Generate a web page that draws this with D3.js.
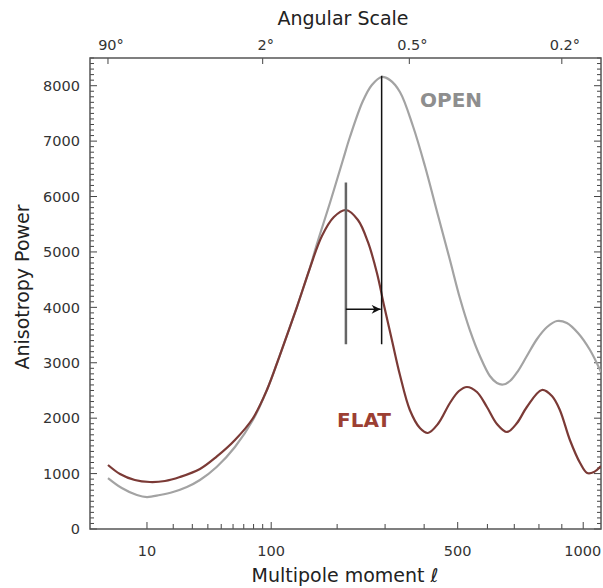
<!DOCTYPE html>
<html>
<head>
<meta charset="utf-8">
<script src="https://cdn.jsdelivr.net/npm/d3@7"></script>
<style>
  body { margin: 0; background: #fff; }
  text { font-family: "DejaVu Sans", "Liberation Sans", Arial, sans-serif; }
</style>
</head>
<body>
<script>
// Data
const openL = [2, 4, 7.2, 10, 14.4, 19.9, 26.9, 34.7, 46.4, 61.7, 79.3, 94.9, 110.9, 134.1, 153.7, 164.4, 187, 210.8, 224.3, 250.7, 270, 292, 311.4, 336, 369.5, 402.2, 439.4, 475.7, 507, 539.6, 573.6, 608.8, 634.4, 657.2, 683.4, 714.4, 750, 792, 834.6, 878, 923, 975, 1033, 1088];
const openV = [920, 740, 614, 577, 614, 668, 758, 884, 1119, 1480, 1967, 2509, 3140, 4006, 4710, 5125, 5883, 6659, 7074, 7724, 8013, 8157, 8103, 7887, 7273, 6551, 5667, 4855, 4169, 3591, 3122, 2761, 2635, 2608, 2671, 2851, 3122, 3429, 3645, 3754, 3718, 3537, 3230, 2833];
const flatL = [2, 3.7, 6.7, 10.9, 16.4, 23.2, 34.7, 46.4, 61.7, 79.3, 94.9, 110.9, 134.1, 153.7, 173.2, 194.1, 216.5, 240.4, 261.4, 281.3, 297.3, 316.2, 336, 361.4, 388.3, 410.5, 439.4, 475.7, 504, 529.9, 563.5, 598.3, 634.4, 672, 710.7, 750, 812.4, 856, 891, 937, 985, 1019, 1053, 1088];
const flatV = [1155, 993, 884, 848, 866, 938, 1083, 1305, 1606, 1999, 2509, 3140, 4006, 4710, 5288, 5631, 5757, 5577, 5180, 4620, 4043, 3411, 2779, 2148, 1823, 1733, 1895, 2274, 2490, 2563, 2472, 2202, 1895, 1751, 1913, 2202, 2509, 2400, 2148, 1606, 1191, 1011, 1029, 1137];
const yTicks = [0, 1000, 2000, 3000, 4000, 5000, 6000, 7000, 8000];
const xTickLabels = [10, 100, 500, 1000];
const xMinor = [10, 20, 30, 40, 50, 60, 70, 80, 90, 100, 200, 300, 400, 500, 600, 700, 800, 900, 1000];
const angles = [90, 2, 0.5, 0.2];
// marker lines: multipole of each peak and its vertical extent
const flatPeakL = 216.5, flatMark = [3334, 6253];
const openPeakL = 292, openMark = [3334, 8180];
const arrowV = 3964;

const width = 603, height = 588;
const m = { left: 90, right: 601, top: 58, bottom: 529 };

const x = d3.scalePow().exponent(0.4).domain([0.52, 1088]).range([m.left, m.right]);
const y = d3.scaleLinear().domain([0, 8500]).range([m.bottom, m.top]);

const svg = d3.select("body").append("svg")
  .attr("width", width).attr("height", height);

const defs = svg.append("defs");
defs.append("clipPath").attr("id", "plot")
  .append("rect").attr("x", m.left).attr("y", m.top)
  .attr("width", m.right - m.left).attr("height", m.bottom - m.top);

defs.append("marker")
  .attr("id", "arrow").attr("viewBox", "0 0 10 10")
  .attr("refX", 10).attr("refY", 5)
  .attr("markerWidth", 10).attr("markerHeight", 9)
  .attr("markerUnits", "userSpaceOnUse")
  .attr("orient", "auto")
  .append("path").attr("d", "M0,0 L10,5 L0,10 L3,5 Z").attr("fill", "#111");

// ticks, all pointing inward
const minorY = d3.range(0, 8501, 100);
const ticks = svg.append("g").attr("stroke", "#444").attr("stroke-width", 1);
minorY.forEach(v => {
  const len = v % 1000 === 0 ? 7 : 4;
  ticks.append("line").attr("x1", m.left).attr("x2", m.left + len).attr("y1", y(v)).attr("y2", y(v));
  ticks.append("line").attr("x1", m.right).attr("x2", m.right - len).attr("y1", y(v)).attr("y2", y(v));
});
xMinor.forEach(l => {
  const len = xTickLabels.includes(l) ? 7 : 5;
  ticks.append("line").attr("x1", x(l)).attr("x2", x(l)).attr("y1", m.bottom).attr("y2", m.bottom - len);
});
angles.forEach(a => {
  ticks.append("line").attr("x1", x(180 / a)).attr("x2", x(180 / a)).attr("y1", m.top).attr("y2", m.top + 6);
});

// frame
svg.append("rect").attr("x", m.left).attr("y", m.top)
  .attr("width", m.right - m.left).attr("height", m.bottom - m.top)
  .attr("fill", "none").attr("stroke", "#555").attr("stroke-width", 1.5);

// tick labels
svg.append("g").selectAll("text").data(yTicks).join("text")
  .attr("x", m.left - 10).attr("y", d => y(d)).attr("dy", "0.36em")
  .attr("text-anchor", "end").attr("font-size", 14.5).attr("fill", "#333")
  .text(d => d);

svg.append("g").selectAll("text").data(xTickLabels).join("text")
  .attr("x", d => x(d)).attr("y", m.bottom + 27)
  .attr("text-anchor", d => d === 1000 ? "end" : "middle")
  .attr("dx", d => d === 1000 ? 18 : 0)
  .attr("font-size", 14.5).attr("fill", "#333")
  .text(d => d);

svg.append("g").selectAll("text").data(angles).join("text")
  .attr("x", d => x(180 / d) + 3).attr("y", m.top - 8)
  .attr("text-anchor", "middle").attr("font-size", 14.5).attr("fill", "#333")
  .text(d => d + "°");

// axis titles
svg.append("text").attr("x", 343).attr("y", 25).attr("text-anchor", "middle")
  .attr("font-size", 19).attr("fill", "#222").text("Angular Scale");

const xt = svg.append("text").attr("x", 345).attr("y", 582).attr("text-anchor", "middle")
  .attr("font-size", 19).attr("fill", "#222");
xt.append("tspan").text("Multipole moment ");
xt.append("tspan").attr("font-style", "italic").text("ℓ");

svg.append("text").attr("transform", "translate(29,287) rotate(-90)")
  .attr("text-anchor", "middle").attr("font-size", 19).attr("fill", "#222")
  .text("Anisotropy Power");

// curves
const line = d3.line().x(d => x(d[0])).y(d => y(d[1])).curve(d3.curveCatmullRom.alpha(0.5));
const plot = svg.append("g").attr("clip-path", "url(#plot)");

plot.append("path").datum(openL.map((l, i) => [l, openV[i]]))
  .attr("d", line).attr("fill", "none").attr("stroke", "#a3a3a3").attr("stroke-width", 2.2);
plot.append("path").datum(flatL.map((l, i) => [l, flatV[i]]))
  .attr("d", line).attr("fill", "none").attr("stroke", "#7b3a36").attr("stroke-width", 2.2);

// peak markers and shift arrow
plot.append("line").attr("x1", x(flatPeakL)).attr("x2", x(flatPeakL))
  .attr("y1", y(flatMark[0])).attr("y2", y(flatMark[1]))
  .attr("stroke", "#666").attr("stroke-width", 2.5);
plot.append("line").attr("x1", x(openPeakL)).attr("x2", x(openPeakL))
  .attr("y1", y(openMark[0])).attr("y2", y(openMark[1]))
  .attr("stroke", "#111").attr("stroke-width", 1.5);
plot.append("line").attr("x1", x(flatPeakL)).attr("x2", x(openPeakL) - 1)
  .attr("y1", y(arrowV)).attr("y2", y(arrowV))
  .attr("stroke", "#111").attr("stroke-width", 1.5).attr("marker-end", "url(#arrow)");

// curve labels
svg.append("text").attr("x", 420).attr("y", 107).attr("font-size", 20)
  .attr("font-weight", "bold").attr("fill", "#8e8e8e").text("OPEN");
svg.append("text").attr("x", 337).attr("y", 427).attr("font-size", 20)
  .attr("font-weight", "bold").attr("fill", "#9c3f33").text("FLAT");
</script>
</body>
</html>
